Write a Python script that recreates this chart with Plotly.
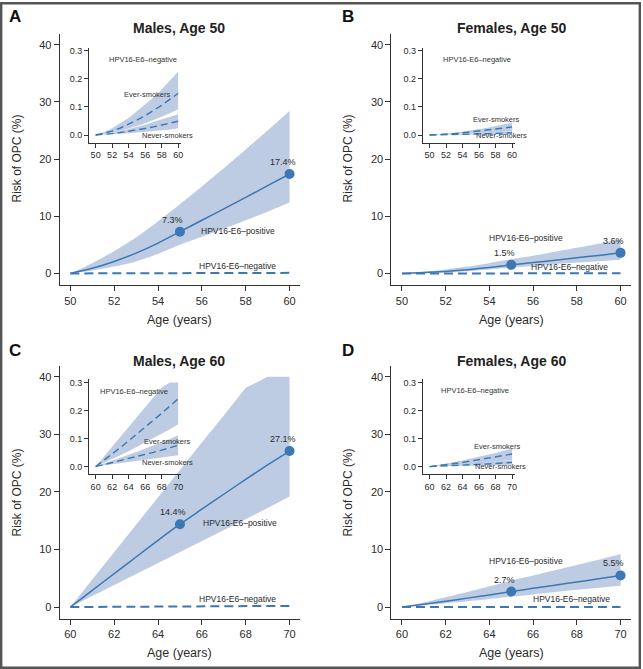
import plotly.graph_objects as go

W, H = 643, 669

# ---------------- data ----------------
ages_50 = [50, 51, 52, 53, 54, 55, 56, 57, 58, 59, 60]
ages_60 = [60, 61, 62, 63, 64, 65, 66, 67, 68, 69, 70]

# Panel A: Males, age 50 (main, %)
a_pos = [0, 0.9, 2.1, 3.55, 5.3, 7.3, 9.3, 11.3, 13.3, 15.35, 17.4]
a_pos_hi = [0, 1.8, 3.9, 6.3, 9.1, 12.1, 15.2, 18.4, 21.7, 25.0, 28.4]
a_pos_lo = [0, 0.5, 1.2, 2.1, 3.4, 5.0, 6.4, 7.8, 9.3, 10.8, 12.4]
a_neg = [0, 0.01, 0.02, 0.03, 0.04, 0.05, 0.06, 0.07, 0.08, 0.09, 0.1]
# Panel A inset (%)
a_ev = [0, 0.006, 0.014, 0.025, 0.038, 0.053, 0.069, 0.087, 0.106, 0.127, 0.149]
a_ev_hi = [0, 0.010, 0.024, 0.041, 0.061, 0.085, 0.108, 0.134, 0.162, 0.193, 0.227]
a_ev_lo = [0, 0.003, 0.008, 0.015, 0.023, 0.032, 0.042, 0.053, 0.065, 0.078, 0.092]
a_nv = [0, 0.002, 0.005, 0.009, 0.013, 0.018, 0.023, 0.029, 0.035, 0.042, 0.049]
a_nv_hi = [0, 0.003, 0.008, 0.014, 0.021, 0.029, 0.037, 0.046, 0.055, 0.064, 0.074]
a_nv_lo = [0, 0.001, 0.002, 0.004, 0.006, 0.009, 0.011, 0.014, 0.017, 0.020, 0.024]

# Panel B: Females, age 50
b_pos = [0, 0.15, 0.35, 0.65, 1.05, 1.5, 1.9, 2.3, 2.75, 3.15, 3.6]
b_pos_hi = [0, 0.3, 0.7, 1.2, 1.8, 2.5, 3.1, 3.8, 4.5, 5.2, 6.0]
b_pos_lo = [0, 0.08, 0.2, 0.4, 0.7, 1.0, 1.3, 1.6, 1.9, 2.15, 2.4]
b_neg = [0, 0.002, 0.004, 0.006, 0.008, 0.01, 0.012, 0.014, 0.016, 0.018, 0.02]
b_ev = [0, 0.001, 0.003, 0.005, 0.008, 0.011, 0.014, 0.017, 0.021, 0.025, 0.029]
b_ev_hi = [0, 0.002, 0.005, 0.008, 0.012, 0.016, 0.021, 0.026, 0.032, 0.038, 0.044]
b_ev_lo = [0, 0.0005, 0.0013, 0.0023, 0.0036, 0.005, 0.0066, 0.0083, 0.0102, 0.012, 0.014]
b_nv = [0, 0.0003, 0.0008, 0.0014, 0.0021, 0.003, 0.0039, 0.0048, 0.0058, 0.0069, 0.008]
b_nv_hi = [0, 0.0005, 0.0013, 0.0022, 0.0033, 0.0046, 0.006, 0.0074, 0.009, 0.011, 0.013]
b_nv_lo = [0, 0.0001, 0.0003, 0.0005, 0.0008, 0.0012, 0.0016, 0.002, 0.0024, 0.0028, 0.0032]

# Panel C: Males, age 60
c_pos = [0, 2.9, 5.8, 8.7, 11.6, 14.4, 17.0, 19.6, 22.2, 24.7, 27.1]
c_pos_hi = [0, 4.8, 9.5, 14.3, 19.0, 23.8, 28.6, 33.3, 38.1, 40.0, 40.0]
c_pos_lo = [0, 1.9, 3.8, 5.7, 7.7, 9.6, 11.5, 13.4, 15.3, 17.2, 19.2]
c_neg = [0, 0.02, 0.04, 0.06, 0.08, 0.1, 0.12, 0.14, 0.16, 0.18, 0.2]
c_ev = [0, 0.022, 0.045, 0.068, 0.092, 0.116, 0.140, 0.165, 0.190, 0.216, 0.242]
c_ev_hi = [0, 0.036, 0.072, 0.108, 0.143, 0.178, 0.212, 0.247, 0.282, 0.300, 0.300]
c_ev_lo = [0, 0.013, 0.027, 0.041, 0.055, 0.070, 0.085, 0.100, 0.116, 0.133, 0.151]
c_nv = [0, 0.007, 0.014, 0.021, 0.028, 0.036, 0.043, 0.051, 0.059, 0.068, 0.076]
c_nv_hi = [0, 0.010, 0.020, 0.031, 0.042, 0.053, 0.064, 0.075, 0.087, 0.099, 0.112]
c_nv_lo = [0, 0.004, 0.008, 0.012, 0.016, 0.020, 0.024, 0.028, 0.032, 0.036, 0.041]

# Panel D: Females, age 60
d_pos = [0, 0.5, 1.0, 1.55, 2.1, 2.7, 3.25, 3.8, 4.35, 4.9, 5.5]
d_pos_hi = [0, 0.8, 1.7, 2.6, 3.6, 4.6, 5.5, 6.4, 7.3, 8.2, 9.2]
d_pos_lo = [0, 0.3, 0.65, 1.0, 1.4, 1.8, 2.2, 2.6, 3.0, 3.35, 3.7]
d_neg = [0, 0.003, 0.006, 0.009, 0.012, 0.015, 0.018, 0.021, 0.024, 0.027, 0.03]
d_ev = [0, 0.003, 0.007, 0.011, 0.015, 0.020, 0.025, 0.029, 0.034, 0.040, 0.045]
d_ev_hi = [0, 0.005, 0.010, 0.016, 0.022, 0.029, 0.035, 0.042, 0.049, 0.057, 0.065]
d_ev_lo = [0, 0.0015, 0.003, 0.005, 0.007, 0.009, 0.012, 0.015, 0.018, 0.021, 0.024]
d_nv = [0, 0.001, 0.002, 0.0035, 0.005, 0.0065, 0.008, 0.0095, 0.011, 0.013, 0.015]
d_nv_hi = [0, 0.0015, 0.0035, 0.0055, 0.0075, 0.010, 0.0125, 0.015, 0.0175, 0.020, 0.023]
d_nv_lo = [0, 0.0005, 0.001, 0.0015, 0.002, 0.003, 0.0035, 0.0045, 0.0055, 0.006, 0.007]

titles = ["Males, Age 50", "Females, Age 50", "Males, Age 60", "Females, Age 60"]
letters = ["A", "B", "C", "D"]
marker_ages = {0: [55, 60], 1: [55, 60], 2: [65, 70], 3: [65, 70]}
marker_vals = {0: [7.3, 17.4], 1: [1.5, 3.6], 2: [14.4, 27.1], 3: [2.7, 5.5]}
marker_txt = {0: ["7.3%", "17.4%"], 1: ["1.5%", "3.6%"], 2: ["14.4%", "27.1%"], 3: ["2.7%", "5.5%"]}

# ---------------- styling ----------------
LINE = "#3b78b4"
BAND = "rgba(178,194,222,0.85)"
TXT = "#2b2b2b"
FONT = "Liberation Sans, Arial, sans-serif"

panels = [
    dict(ages=ages_50, pos=a_pos, hi=a_pos_hi, lo=a_pos_lo, neg=a_neg,
         ev=a_ev, evh=a_ev_hi, evl=a_ev_lo, nv=a_nv, nvh=a_nv_hi, nvl=a_nv_lo),
    dict(ages=ages_50, pos=b_pos, hi=b_pos_hi, lo=b_pos_lo, neg=b_neg,
         ev=b_ev, evh=b_ev_hi, evl=b_ev_lo, nv=b_nv, nvh=b_nv_hi, nvl=b_nv_lo),
    dict(ages=ages_60, pos=c_pos, hi=c_pos_hi, lo=c_pos_lo, neg=c_neg,
         ev=c_ev, evh=c_ev_hi, evl=c_ev_lo, nv=c_nv, nvh=c_nv_hi, nvl=c_nv_lo),
    dict(ages=ages_60, pos=d_pos, hi=d_pos_hi, lo=d_pos_lo, neg=d_neg,
         ev=d_ev, evh=d_ev_hi, evl=d_ev_lo, nv=d_nv, nvh=d_nv_hi, nvl=d_nv_lo),
]

# pixel layout boxes
main_x = [(60, 301), (392.7, 633), (60, 301), (392.7, 633)]
main_y = [(32, 284), (32, 284), (365, 618.7), (365, 618.7)]
ins_x = [(89.3, 182), (424.3, 517), (89.3, 182), (424.3, 517)]
ins_y = [(46, 141), (46, 141), (378.6, 473.6), (378.6, 473.6)]
title_pos = [(180, 26), (513, 26), (180, 360), (513, 360)]
letter_pos = [(15, 15), (349, 15), (15, 350), (349, 350)]
ytitle_pos = [(17, 157), (349, 157), (17, 492), (349, 492)]
xtitle_pos = [(180, 319), (513, 319), (180, 653), (513, 653)]


def fx(px):
    return px / W


def fy(py):
    return 1 - py / H


fig = go.Figure()
layout = {}
annotations = []


def band(x, lo, hi, xa, ya, smooth=False):
    shape = "spline" if smooth else "linear"
    fig.add_trace(go.Scatter(x=list(x), y=list(lo), mode="lines",
                             line=dict(width=0, shape=shape, smoothing=0.5),
                             hoverinfo="skip", showlegend=False, xaxis=xa, yaxis=ya))
    fig.add_trace(go.Scatter(x=list(x), y=list(hi), mode="lines", fill="tonexty",
                             fillcolor=BAND, line=dict(width=0, shape=shape, smoothing=0.5),
                             hoverinfo="skip", showlegend=False, xaxis=xa, yaxis=ya))


for i, p in enumerate(panels):
    mi = i + 1
    ii = i + 5
    xa_m, ya_m = ("x" if mi == 1 else f"x{mi}"), ("y" if mi == 1 else f"y{mi}")
    xa_i, ya_i = f"x{ii}", f"y{ii}"
    x0 = p["ages"][0]

    # main plot
    band(p["ages"], p["lo"], p["hi"], xa_m, ya_m, smooth=(i != 2))
    fig.add_trace(go.Scatter(x=p["ages"], y=p["neg"], mode="lines",
                             line=dict(color=LINE, width=2, dash="9px,5px"),
                             showlegend=False, xaxis=xa_m, yaxis=ya_m))
    fig.add_trace(go.Scatter(x=p["ages"], y=p["pos"], mode="lines",
                             line=dict(color=LINE, width=1.5, shape="spline", smoothing=0.6),
                             showlegend=False, xaxis=xa_m, yaxis=ya_m))
    fig.add_trace(go.Scatter(x=marker_ages[i], y=marker_vals[i], mode="markers",
                             marker=dict(color=LINE, size=10),
                             showlegend=False, xaxis=xa_m, yaxis=ya_m))

    # inset
    band(p["ages"], p["evl"], p["evh"], xa_i, ya_i)
    band(p["ages"], p["nvl"], p["nvh"], xa_i, ya_i)
    for key in ("ev", "nv"):
        fig.add_trace(go.Scatter(x=p["ages"], y=p[key], mode="lines",
                                 line=dict(color=LINE, width=1.4, dash="7px,4px"),
                                 showlegend=False, xaxis=xa_i, yaxis=ya_i))

    axbase = dict(showgrid=False, zeroline=False, showline=True, linecolor="#333",
                  linewidth=1.3, ticks="outside", ticklen=5, tickwidth=1.2,
                  tickcolor="#333", tickfont=dict(size=11, color=TXT, family=FONT))
    layout["xaxis" if mi == 1 else f"xaxis{mi}"] = dict(
        axbase, domain=[fx(main_x[i][0]), fx(main_x[i][1])],
        range=[x0 - 0.48, x0 + 10.48], tickvals=list(range(x0, x0 + 11, 2)),
        anchor=ya_m)
    layout["yaxis" if mi == 1 else f"yaxis{mi}"] = dict(
        axbase, domain=[fy(main_y[i][1]), fy(main_y[i][0])],
        range=[-2.05, 41.9], tickvals=[0, 10, 20, 30, 40], anchor=xa_m)
    insbase = dict(axbase, ticklen=4, tickwidth=1, linewidth=1.1,
                   tickfont=dict(size=9, color=TXT, family=FONT))
    layout[f"xaxis{ii}"] = dict(
        insbase, domain=[fx(ins_x[i][0]), fx(ins_x[i][1])],
        range=[x0 - 0.8, x0 + 10.4], tickvals=list(range(x0, x0 + 11, 2)),
        anchor=ya_i)
    layout[f"yaxis{ii}"] = dict(
        insbase, domain=[fy(ins_y[i][1]), fy(ins_y[i][0])],
        range=[-0.027, 0.311], tickvals=[0, 0.1, 0.2, 0.3], tickformat=".1f",
        anchor=xa_i)

    common = dict(xref="paper", yref="paper", showarrow=False, xanchor="center", yanchor="middle")
    annotations.append(dict(common, text=f"<b>{titles[i]}</b>", x=fx(title_pos[i][0]), y=fy(title_pos[i][1]),
                            font=dict(size=14, color="#222", family=FONT)))
    annotations.append(dict(common, text=f"<b>{letters[i]}</b>", x=fx(letter_pos[i][0]), y=fy(letter_pos[i][1]),
                            font=dict(size=17, color="#111", family=FONT)))
    annotations.append(dict(common, text="Risk of OPC (%)", x=fx(ytitle_pos[i][0]), y=fy(ytitle_pos[i][1]),
                            textangle=-90, font=dict(size=12, color=TXT, family=FONT)))
    annotations.append(dict(common, text="Age (years)", x=fx(xtitle_pos[i][0]), y=fy(xtitle_pos[i][1]),
                            font=dict(size=12.5, color=TXT, family=FONT)))

    # percentage labels above markers
    for xa_, ya_, t in zip(marker_ages[i], marker_vals[i], marker_txt[i]):
        annotations.append(dict(text=t, x=xa_, y=ya_, xref=xa_m, yref=ya_m, showarrow=False,
                                xanchor="center", yanchor="middle",
                                xshift=-7, yshift=12, font=dict(size=9, color=TXT, family=FONT)))

# series labels in main plots (data coordinates)
pos_lbl = [(57.64, 7.34), (55.67, 6.13), (67.72, 14.58), (65.67, 7.92)]
neg_lbl = [(57.64, 1.27), (57.68, 1.09), (67.63, 1.39), (67.77, 1.39)]
# inset labels
ins_neg_lbl = [(55.7, 0.27), (55.72, 0.27), (64.6, 0.267), (65.53, 0.27)]
ins_ev_lbl = [(56.33, 0.144), (58.06, 0.054), (68.74, 0.089), (68.26, 0.072)]
ins_nv_lbl = [(58.74, 0.0), (58.67, -0.002), (68.67, 0.013), (68.55, 0.0)]

for i in range(4):
    mi = i + 1
    ii = i + 5
    xa_m, ya_m = ("x" if mi == 1 else f"x{mi}"), ("y" if mi == 1 else f"y{mi}")
    xa_i, ya_i = f"x{ii}", f"y{ii}"
    annotations.append(dict(text="HPV16-E6–positive", x=pos_lbl[i][0], y=pos_lbl[i][1],
                            xref=xa_m, yref=ya_m, showarrow=False, xanchor="center", yanchor="middle",
                            font=dict(size=8.5, color=TXT, family=FONT)))
    annotations.append(dict(text="HPV16-E6–negative", x=neg_lbl[i][0], y=neg_lbl[i][1],
                            xref=xa_m, yref=ya_m, showarrow=False, xanchor="center", yanchor="middle",
                            font=dict(size=8.5, color=TXT, family=FONT)))
    for (lx, ly), t in zip([ins_neg_lbl[i], ins_ev_lbl[i], ins_nv_lbl[i]],
                           ["HPV16-E6–negative", "Ever-smokers", "Never-smokers"]):
        annotations.append(dict(text=t, x=lx, y=ly, xref=xa_i, yref=ya_i, showarrow=False,
                                xanchor="center", yanchor="middle",
                                font=dict(size=7.5, color="#333", family=FONT)))

fig.update_layout(
    **layout,
    annotations=annotations,
    width=W, height=H,
    margin=dict(l=0, r=0, t=0, b=0),
    paper_bgcolor="white",
    plot_bgcolor="rgba(0,0,0,0)",
    showlegend=False,
    shapes=[dict(type="rect", xref="paper", yref="paper", x0=fx(1.2), x1=fx(W - 1.2),
                 y0=fy(H - 1.2), y1=fy(1.2), line=dict(color="#555", width=2.4))],
)

fig.write_html("out.html", config={"displayModeBar": False},
               post_script="document.body.style.margin='0';document.body.style.padding='0';")
